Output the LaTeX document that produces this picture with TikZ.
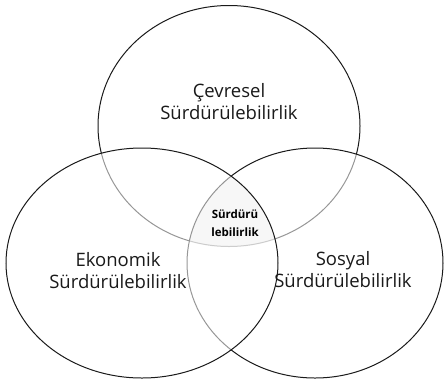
\documentclass[tikz,border=0pt]{standalone}
\usepackage{fontspec}
\setmainfont{Open Sans}
\usetikzlibrary{shapes.geometric}
\definecolor{LineDark}{HTML}{1A1A1A}

\begin{document}
\begin{tikzpicture}[x=1pt, y=-1pt,
    venn/.style={ellipse, draw=LineDark, line width=1pt, inner sep=0pt},
    vennlabel/.style={align=center, text=LineDark, font=\fontsize{18.5}{22}\selectfont},
    corelabel/.style={align=center, text=black, font=\bfseries\fontsize{11.5}{18}\selectfont}]

  % Bildrahmen (444 x 381 px)
  \useasboundingbox (0,0) rectangle (444,381);

  % Drei Kreise: oben zuerst, dann rechts und links halbtransparent darueber
  \node[venn, fill=white, minimum width=262pt, minimum height=241pt] (cevre) at (229,126) {};
  \node[venn, fill=white, fill opacity=0.55, minimum width=256pt, minimum height=230pt] (sosyal) at (315,263) {};
  \node[venn, fill=white, fill opacity=0.55, minimum width=272pt, minimum height=230pt] (ekonomi) at (142,263) {};

  % Schnittmenge aller drei Kreise leicht grau
  \begin{scope}
    \clip (cevre.center) ellipse [x radius=131pt, y radius=120.5pt];
    \clip (sosyal.center) ellipse [x radius=128pt, y radius=115pt];
    \fill[black, fill opacity=0.03] (ekonomi.center) ellipse [x radius=136pt, y radius=115pt];
  \end{scope}

  % Beschriftungen
  \node[vennlabel] (cevretext) at (229,102) {Çevresel\\Sürdürülebilirlik};
  \node[vennlabel] (ekonomitext) at (118,271) {Ekonomik\\Sürdürülebilirlik};
  \node[vennlabel] (sosyaltext) at (343,270) {Sosyal\\Sürdürülebilirlik};
  \node[corelabel] (kern) at (235,223) {Sürdürü\\lebilirlik};

\end{tikzpicture}
\end{document}
